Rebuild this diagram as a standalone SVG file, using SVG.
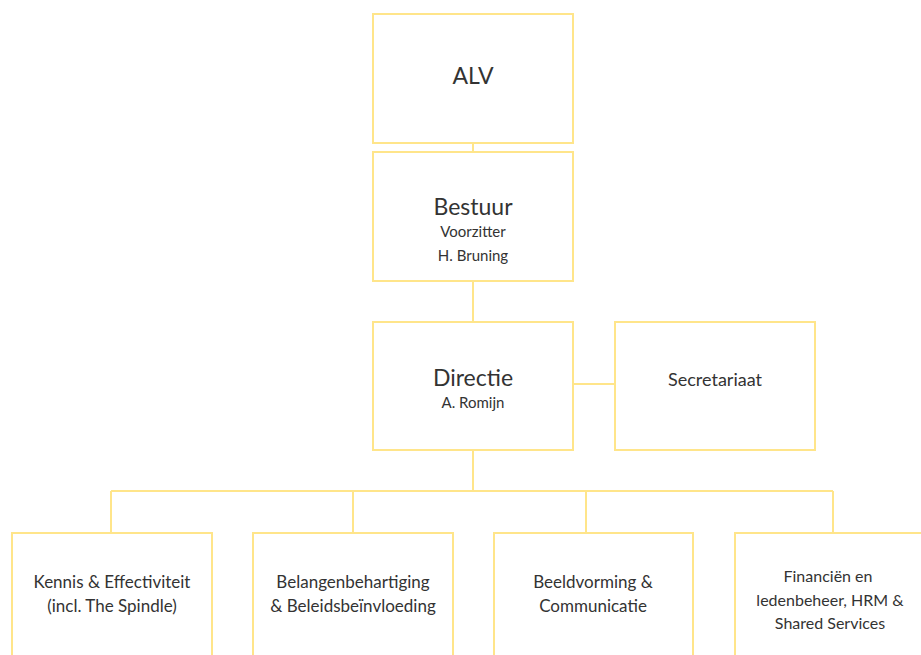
<svg xmlns="http://www.w3.org/2000/svg" width="921" height="655" viewBox="0 0 921 655">
<style>
.box{fill:#fff;stroke:#FFE58A;stroke-width:2}
.ln{stroke:#FFE58A;stroke-width:2;fill:none}
text{font-family:Lato,"Open Sans",sans-serif;fill:#333;text-anchor:middle}
.big{font-size:23px}
.sm{font-size:15px}
.md{font-size:17px}
.fin{font-size:16px}
</style>
<rect width="921" height="655" fill="#fff"/>
<g id="connectors">
<path class="ln" d="M473 143V152M473 281V322M573 384H615M473 450V491M111 491H833M111 491V533M353 491V533M586 491V533M833 491V533"/>
</g>
<g id="alv"><rect class="box" x="373" y="14" width="200" height="129"/><text class="big" x="473" y="84">ALV</text></g>
<g id="bestuur"><rect class="box" x="373" y="152" width="200" height="129"/><text class="big" x="473" y="215">Bestuur</text><text class="sm" x="473" y="237">Voorzitter</text><text class="sm" x="473" y="261" fill="#222244">H. Bruning</text></g>
<g id="directie"><rect class="box" x="373" y="322" width="200" height="128"/><text class="big" x="473" y="386">Directie</text><text class="sm" x="473" y="408">A. Romijn</text></g>
<g id="secretariaat"><rect class="box" x="615" y="322" width="200" height="128"/><text class="md" x="715" y="386" style="font-size:18px">Secretariaat</text></g>
<g id="kennis"><rect class="box" x="12" y="533" width="200" height="140"/><text class="md" x="112" y="588">Kennis &amp; Effectiviteit</text><text class="md" x="112" y="612">(incl. The Spindle)</text></g>
<g id="belangen"><rect class="box" x="253" y="533" width="200" height="140"/><text class="md" x="353" y="588">Belangenbehartiging</text><text class="md" x="353" y="612">&amp; Beleidsbeïnvloeding</text></g>
<g id="beeld"><rect class="box" x="494" y="533" width="199" height="140"/><text class="md" x="593" y="588">Beeldvorming &amp;</text><text class="md" x="593" y="612">Communicatie</text></g>
<g id="financien"><rect class="box" x="735" y="533" width="200" height="140"/><text class="fin" x="828" y="582">Financiën en</text><text class="fin" x="830" y="606">ledenbeheer, HRM &amp;</text><text class="fin" x="830" y="629">Shared Services</text></g>
</svg>
